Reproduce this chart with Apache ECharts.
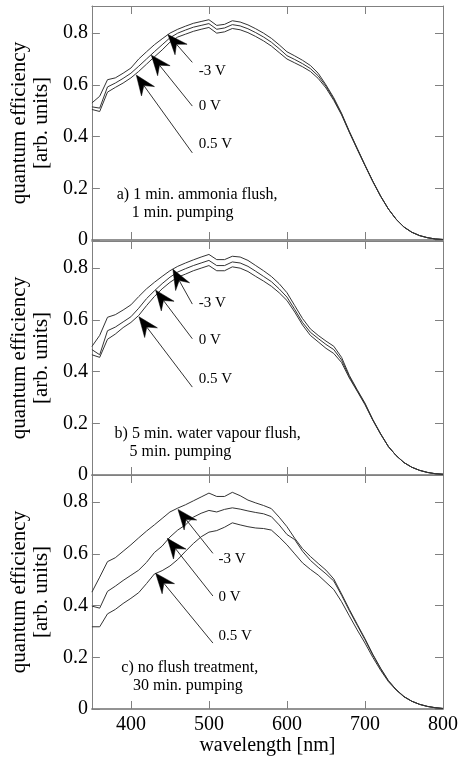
<!DOCTYPE html>
<html><head><meta charset="utf-8">
<script src="https://cdn.jsdelivr.net/npm/echarts@6/dist/echarts.min.js"></script>
<style>html,body{margin:0;padding:0;background:#fff}#c{width:468px;height:759px}</style>
</head><body><div id="c"></div><script>
// ---------- data ----------
const wavelength = [350,360,370,380,390,400,410,420,430,440,450,460,470,480,490,500,510,520,530,540,550,560,570,580,590,600,610,620,630,640,650,660,670,680,690,700,710,720,730,740,750,760,770,780,790,800];
const xTicks = [400,500,600,700,800];
const xTopTicks = [400,500,600,700];
const voltageLabels = ['-3 V','0 V','0.5 V'];

// panel a) 1 min. ammonia flush
const a_m3 = [0.530,0.556,0.620,0.627,0.645,0.665,0.700,0.728,0.755,0.778,0.800,0.815,0.827,0.838,0.845,0.852,0.830,0.834,0.848,0.843,0.832,0.817,0.800,0.780,0.755,0.728,0.712,0.695,0.675,0.645,0.600,0.550,0.490,0.420,0.355,0.290,0.228,0.170,0.120,0.080,0.050,0.030,0.017,0.009,0.004,0.002];
const a_0  = [0.515,0.510,0.592,0.607,0.625,0.645,0.672,0.700,0.728,0.755,0.782,0.800,0.812,0.823,0.830,0.837,0.815,0.820,0.833,0.828,0.817,0.802,0.785,0.765,0.740,0.713,0.698,0.682,0.663,0.635,0.595,0.545,0.487,0.418,0.353,0.289,0.227,0.170,0.120,0.080,0.050,0.030,0.017,0.009,0.004,0.002];
const a_05 = [0.505,0.497,0.572,0.590,0.607,0.627,0.652,0.680,0.708,0.735,0.765,0.785,0.796,0.807,0.815,0.822,0.800,0.805,0.818,0.813,0.802,0.787,0.770,0.750,0.725,0.700,0.685,0.670,0.652,0.625,0.588,0.540,0.484,0.416,0.351,0.288,0.226,0.169,0.120,0.080,0.050,0.030,0.017,0.009,0.004,0.002];
// panel b) 5 min. water vapour flush
const b_m3 = [0.497,0.540,0.610,0.620,0.638,0.658,0.690,0.720,0.745,0.768,0.790,0.807,0.820,0.832,0.843,0.853,0.833,0.833,0.846,0.843,0.830,0.810,0.790,0.768,0.740,0.705,0.655,0.605,0.565,0.540,0.518,0.498,0.455,0.385,0.330,0.278,0.215,0.160,0.110,0.075,0.048,0.030,0.018,0.010,0.005,0.003];
const b_0  = [0.485,0.465,0.558,0.572,0.592,0.612,0.645,0.682,0.712,0.740,0.765,0.785,0.798,0.810,0.820,0.830,0.810,0.810,0.824,0.820,0.807,0.788,0.768,0.748,0.720,0.688,0.640,0.590,0.552,0.528,0.505,0.485,0.445,0.380,0.327,0.275,0.213,0.159,0.110,0.075,0.048,0.030,0.018,0.010,0.005,0.003];
const b_05 = [0.465,0.455,0.525,0.545,0.570,0.590,0.617,0.655,0.690,0.720,0.745,0.765,0.777,0.790,0.800,0.810,0.790,0.790,0.805,0.800,0.787,0.768,0.750,0.730,0.705,0.675,0.630,0.580,0.540,0.515,0.490,0.470,0.435,0.375,0.324,0.272,0.212,0.158,0.110,0.075,0.048,0.030,0.018,0.010,0.005,0.003];
// panel c) no flush treatment
const c_m3 = [0.452,0.510,0.570,0.585,0.610,0.635,0.662,0.688,0.712,0.737,0.762,0.777,0.790,0.805,0.820,0.835,0.822,0.822,0.838,0.825,0.808,0.797,0.787,0.775,0.742,0.705,0.660,0.620,0.590,0.563,0.537,0.503,0.445,0.385,0.328,0.272,0.212,0.158,0.110,0.075,0.048,0.030,0.018,0.010,0.005,0.002];
const c_0  = [0.398,0.390,0.455,0.475,0.497,0.517,0.537,0.567,0.605,0.630,0.665,0.692,0.712,0.742,0.757,0.768,0.762,0.772,0.778,0.773,0.766,0.760,0.755,0.744,0.712,0.675,0.655,0.610,0.575,0.548,0.523,0.495,0.440,0.380,0.324,0.268,0.209,0.156,0.109,0.075,0.048,0.030,0.018,0.010,0.005,0.002];
const c_05 = [0.318,0.318,0.368,0.385,0.408,0.428,0.450,0.485,0.522,0.535,0.553,0.578,0.610,0.640,0.666,0.684,0.690,0.703,0.720,0.712,0.705,0.700,0.698,0.692,0.665,0.635,0.600,0.565,0.540,0.518,0.490,0.462,0.415,0.360,0.306,0.255,0.200,0.150,0.106,0.073,0.047,0.030,0.018,0.010,0.005,0.002];

// annotations (data coordinates: [wavelength, efficiency])
const arrowTips_a  = [[447.4,0.795],[426.2,0.715],[406.9,0.638]];
const arrowTails_a = [[478.7,0.687],[478.7,0.518],[478.7,0.337]];
const labelAt_a    = [[486.8,0.654],[486.8,0.518],[486.8,0.371]];
const arrowTips_b  = [[453.8,0.796],[431.7,0.715],[410.3,0.612]];
const arrowTails_b = [[478.7,0.661],[478.7,0.527],[478.7,0.340]];
const labelAt_b    = [[486.8,0.664],[486.8,0.520],[486.8,0.372]];
const arrowTips_c  = [[460.3,0.772],[446.7,0.660],[431.7,0.525]];
const arrowTails_c = [[505.1,0.602],[505.1,0.437],[505.1,0.255]];
const labelAt_c    = [[512.4,0.579],[512.4,0.431],[512.4,0.284]];

const desc_a = ['a) 1 min. ammonia flush,','1 min. pumping'];
const descAt_a = [[381.8,0.176],[401.0,0.107]];
const desc_b = ['b) 5 min. water vapour flush,','5 min. pumping'];
const descAt_b = [[379.1,0.160],[398.3,0.090]];
const desc_c = ['c) no flush treatment,','30 min. pumping'];
const descAt_c = [[387.7,0.159],[402.6,0.088]];

// ---------- chart ----------
const FONT = '"Liberation Serif","Times New Roman",serif';
const FRAME = '#808080';
const panels = [
  {series:[a_m3,a_0,a_05], tips:arrowTips_a, tails:arrowTails_a, labs:labelAt_a, desc:desc_a, descAt:descAt_a, top:6},
  {series:[b_m3,b_0,b_05], tips:arrowTips_b, tails:arrowTails_b, labs:labelAt_b, desc:desc_b, descAt:descAt_b, top:241},
  {series:[c_m3,c_0,c_05], tips:arrowTips_c, tails:arrowTails_c, labs:labelAt_c, desc:desc_c, descAt:descAt_c, top:475}
];
const YMAX = 0.905;

const grid = [], xAxis = [], yAxis = [], series = [];
panels.forEach((p,i)=>{
  grid.push({left:91, right:25, top:p.top, height:234, show:false});
});
panels.forEach((p,i)=>{
  const last = i===2;
  xAxis.push({
    gridIndex:i, type:'value', min:350, max:800, position:'bottom',
    axisLine:{show:true, onZero:false, lineStyle:{color:'#707070', width:1.5}},
    axisTick:{show:true, inside:true, length:8, customValues:xTicks, lineStyle:{color:FRAME}},
    axisLabel:{show:last, customValues:xTicks, margin:6, color:'#000', fontFamily:FONT, fontSize:20},
    splitLine:{show:false},
    name: last ? 'wavelength [nm]' : '', nameLocation:'middle', nameGap:27,
    nameTextStyle:{color:'#000', fontFamily:FONT, fontSize:20}
  });
});
panels.forEach((p,i)=>{
  xAxis.push({
    gridIndex:i, type:'value', min:350, max:800, position:'top',
    axisLine:{show:true, onZero:false, lineStyle:{color:FRAME, width:1}},
    axisTick:{show:true, inside:true, length:8, customValues:xTopTicks, lineStyle:{color:FRAME}},
    axisLabel:{show:false}, splitLine:{show:false}
  });
});
const fmt = v => {
  const k = v/0.2;
  if (Math.abs(k-Math.round(k))>1e-6 || v>0.85) return '';
  return v===0 ? '0' : v.toFixed(1);
};
panels.forEach((p,i)=>{
  yAxis.push({
    gridIndex:i, type:'value', min:0, max:YMAX, interval:0.2, position:'left',
    axisLine:{show:true, onZero:false, lineStyle:{color:FRAME, width:1}},
    axisTick:{show:true, inside:true, length:8, lineStyle:{color:FRAME}},
    axisLabel:{show:true, formatter:fmt, showMaxLabel:false, margin:4, color:'#000', fontFamily:FONT, fontSize:20},
    splitLine:{show:false},
    name:'quantum efficiency\n[arb. units]', nameLocation:'middle', nameRotate:90, nameGap:32,
    nameTextStyle:{color:'#000', fontFamily:FONT, fontSize:21, lineHeight:22}
  });
});
panels.forEach((p,i)=>{
  yAxis.push({
    gridIndex:i, type:'value', min:0, max:YMAX, interval:0.2, position:'right',
    axisLine:{show:true, onZero:false, lineStyle:{color:FRAME, width:1}},
    axisTick:{show:true, inside:true, length:8, lineStyle:{color:FRAME}},
    axisLabel:{show:false}, splitLine:{show:false}
  });
});
panels.forEach((p,i)=>{
  p.series.forEach((vals,j)=>{
    series.push({
      type:'line', name:voltageLabels[j], xAxisIndex:i, yAxisIndex:i,
      data: wavelength.map((w,k)=>[w, vals[k]]),
      showSymbol:false, symbol:'none', smooth:false, silent:true,
      lineStyle:{color:'#333', width:1}
    });
  });
});

const chart = echarts.init(document.getElementById('c'), null, {renderer:'canvas'});
chart.setOption({animation:false, backgroundColor:'#fff', grid, xAxis, yAxis, series});

// annotations placed through the chart's own scales
const graphic = [];
panels.forEach((p,i)=>{
  const si = i*3;
  const px = v => chart.convertToPixel({seriesIndex:si}, v);
  p.tips.forEach((tip,j)=>{
    const T = px(tip), E = px(p.tails[j]);
    const dx = E[0]-T[0], dy = E[1]-T[1], len = Math.hypot(dx,dy);
    const ux = dx/len, uy = dy/len, nx = -uy, ny = ux;
    const L = 20, W = 8, N = 13;
    graphic.push({type:'line', silent:true, z:10,
      shape:{x1:T[0]+ux*N, y1:T[1]+uy*N, x2:E[0], y2:E[1]},
      style:{stroke:'#333', lineWidth:1}});
    graphic.push({type:'polygon', silent:true, z:11,
      shape:{points:[[T[0],T[1]],[T[0]+ux*L+nx*W, T[1]+uy*L+ny*W],[T[0]+ux*N, T[1]+uy*N],[T[0]+ux*L-nx*W, T[1]+uy*L-ny*W]]},
      style:{fill:'#000', stroke:'#000', lineWidth:0.5}});
    const Lp = px(p.labs[j]);
    graphic.push({type:'text', silent:true, z:12, x:Lp[0], y:Lp[1],
      style:{text:voltageLabels[j], fill:'#000', font:'15px '+FONT, fontSize:15, fontFamily:FONT,
        textAlign:'left', align:'left', textVerticalAlign:'middle', verticalAlign:'middle'}});
  });
  p.desc.forEach((t,j)=>{
    const D = px(p.descAt[j]);
    graphic.push({type:'text', silent:true, z:12, x:D[0], y:D[1],
      style:{text:t, fill:'#000', font:'16px '+FONT, fontSize:16, fontFamily:FONT,
        textAlign:'left', align:'left', textVerticalAlign:'middle', verticalAlign:'middle'}});
  });
});
chart.setOption({graphic});
</script></body></html>
